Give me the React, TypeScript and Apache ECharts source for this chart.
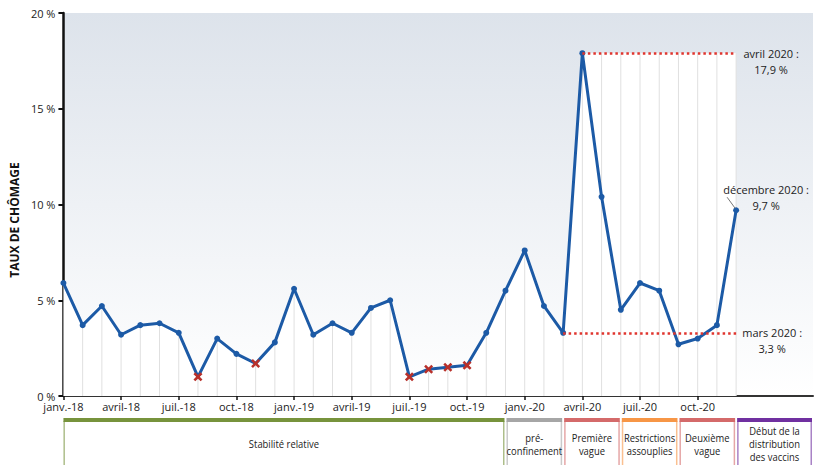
import React, { useEffect, useRef } from 'react';
import * as echarts from 'echarts';

const MONTHS = ['janv.', 'févr.', 'mars', 'avril', 'mai', 'juin', 'juil.', 'août', 'sept.', 'oct.', 'nov.', 'déc.'];
const YEARS = ['18', '19', '20', '21'];
const categories = YEARS.flatMap((y) => MONTHS.map((m) => `${m}-${y}`)).slice(0, 40);

const unemployment = [
  5.9, 3.7, 4.7, 3.2, 3.7, 3.8, 3.3, 1.0, 3.0, 2.2, 1.7, 2.8,
  5.6, 3.2, 3.8, 3.3, 4.6, 5.0, 1.0, 1.4, 1.5, 1.6, 3.3, 5.5,
  7.6, 4.7, 3.3, 17.9, 10.4, 4.5, 5.9, 5.5, 2.7, 3.0, 3.7, 9.7,
];
const markedMonths = [7, 10, 18, 19, 20, 21];
const labeledTickEvery = 3;
const lastLabeledIndex = 35;

const yMin = 0;
const yMax = 20;
const yInterval = 5;

const marchIndex = 26;
const aprilIndex = 27;
const decemberIndex = 35;
const annotationTexts = ['avril 2020 :\n17,9 %', 'mars 2020 :\n3,3 %', 'décembre 2020 :\n9,7 %'];

const phaseLabels = [
  'Stabilité relative',
  'pré-\nconfinement',
  'Première\nvague',
  'Restrictions\nassouplies',
  'Deuxième\nvague',
  'Début de la\ndistribution\ndes vaccins',
];
const phaseStarts = [0, 23, 26, 29, 32, 35];
const phaseEnds = [23, 26, 29, 32, 35, 39];
const phaseColors = ['#77933c', '#a6a6a6', '#d46a6a', '#f79646', '#d46a6a', '#7030a0'];

const FONT = '"Open Sans", sans-serif';
const BLUE = '#1c5aa6';
const RED = '#e0352e';
const X_PATH = 'path://M0,2 L2,0 L5,3 L8,0 L10,2 L7,5 L10,8 L8,10 L5,7 L2,10 L0,8 L3,5 Z';

export default function App() {
  const ref = useRef<HTMLDivElement>(null);

  useEffect(() => {
    if (!ref.current) return;
    const chart = echarts.init(ref.current, undefined, { renderer: 'svg' });

    const peak = unemployment[aprilIndex];
    const marchVal = unemployment[marchIndex];
    const decVal = unemployment[decemberIndex];
    const gridHeights = unemployment.map((v, i) =>
      i >= aprilIndex && i <= decemberIndex ? Math.max(v, peak) : v
    );
    const whiteBlock = categories.map((_, i) => (i >= aprilIndex && i <= decemberIndex ? peak : null));
    const tickFilter = (i: number) => i % labeledTickEvery === 0 && i <= lastLabeledIndex;

    const option: any = {
      animation: false,
      textStyle: { fontFamily: FONT },
      grid: {
        left: 62,
        right: 8,
        top: 13,
        bottom: 69,
        show: true,
        borderWidth: 0,
        backgroundColor: new echarts.graphic.LinearGradient(0, 0, 0, 1, [
          { offset: 0, color: '#dde3eb' },
          { offset: 1, color: '#ffffff' },
        ]),
      },
      xAxis: {
        type: 'category',
        data: categories,
        boundaryGap: false,
        axisLine: { lineStyle: { color: '#333', width: 2 } },
        axisTick: { show: true, interval: tickFilter, length: 4, lineStyle: { color: '#111', width: 1.5 } },
        axisLabel: {
          interval: tickFilter,
          margin: 5,
          fontSize: 11,
          color: '#222',
          fontFamily: FONT,
        },
        splitLine: { show: false },
      },
      yAxis: {
        type: 'value',
        min: yMin,
        max: yMax,
        interval: yInterval,
        name: 'TAUX DE CHÔMAGE',
        nameLocation: 'middle',
        nameGap: 37,
        nameTextStyle: {
          fontWeight: 'bold',
          fontSize: 12,
          color: '#111',
          fontFamily: FONT,
          padding: [0, 31, 0, 0],
        },
        axisLine: { show: true, lineStyle: { color: '#111', width: 2.5 } },
        axisTick: { show: true, length: 5, lineStyle: { color: '#111', width: 2 } },
        axisLabel: { formatter: (v: number) => `${v} %`, margin: 8, fontSize: 11, color: '#222', fontFamily: FONT },
        splitLine: { show: false },
      },
      series: [
        {
          type: 'line',
          data: unemployment,
          symbol: 'none',
          silent: true,
          lineStyle: { width: 0, opacity: 0 },
          areaStyle: { color: '#ffffff', opacity: 1 },
          z: 1,
        },
        {
          type: 'line',
          data: whiteBlock,
          symbol: 'none',
          silent: true,
          lineStyle: { width: 0, opacity: 0 },
          areaStyle: { color: '#ffffff', opacity: 1 },
          z: 1,
        },
        {
          type: 'custom',
          silent: true,
          z: 2,
          data: gridHeights.map((h, i) => [i, h]).filter((d) => d[0] > 0),
          renderItem: (_params: any, api: any) => {
            const a = api.coord([api.value(0), 0]);
            const b = api.coord([api.value(0), api.value(1)]);
            return {
              type: 'line',
              shape: { x1: a[0], y1: a[1], x2: b[0], y2: b[1] },
              style: { stroke: '#e0e0e0', lineWidth: 1 },
            };
          },
        },
        {
          type: 'line',
          z: 3,
          data: unemployment.map((v, i) =>
            markedMonths.includes(i)
              ? { value: v, symbol: X_PATH, symbolSize: 9, itemStyle: { color: '#b8302a' } }
              : v
          ),
          symbol: 'circle',
          symbolSize: 6,
          showAllSymbol: true,
          lineStyle: { color: BLUE, width: 3 },
          itemStyle: { color: BLUE },
          markLine: {
            silent: true,
            symbol: ['none', 'none'],
            label: { show: false },
            lineStyle: { color: RED, type: [2.5, 3], width: 2.5 },
            data: [
              [{ coord: [aprilIndex, peak] }, { coord: [decemberIndex, peak] }],
              [{ coord: [marchIndex, marchVal] }, { coord: [decemberIndex, marchVal] }],
            ],
          },
        },
      ],
    };
    chart.setOption(option);

    const px = (i: number, v: number) => chart.convertToPixel({ gridIndex: 0 }, [i, v]) as number[];
    const axisY = px(0, 0)[1];
    const graphics: any[] = [];

    phaseLabels.forEach((label, k) => {
      const x0 = px(phaseStarts[k], 0)[0] + (k > 0 ? 1 : 0);
      const x1 = px(phaseEnds[k], 0)[0] - 1;
      const color = phaseColors[k];
      const top = axisY + 22;
      graphics.push({
        type: 'rect',
        shape: { x: x0, y: top, width: x1 - x0, height: 4 },
        style: { fill: color },
        silent: true,
      });
      [x0 + 0.75, x1 - 0.75].forEach((x) =>
        graphics.push({
          type: 'line',
          shape: { x1: x, y1: top + 3, x2: x, y2: 480 },
          style: { stroke: color, lineWidth: 1.5, opacity: 0.6 },
          silent: true,
        })
      );
      graphics.push({
        type: 'text',
        x: (x0 + x1) / 2,
        y: top + 26,
        scaleX: 0.82,
        silent: true,
        style: {
          text: label,
          align: 'center',
          verticalAlign: 'middle',
          fontSize: 11.5,
          lineHeight: 13,
          fontFamily: FONT,
          fill: '#222',
        },
      });
    });

    const pA = px(decemberIndex, peak);
    const pM = px(decemberIndex, marchVal);
    const pD = px(decemberIndex, decVal);
    const annot = [
      { x: pA[0] + 35, y: pA[1] + 8, text: annotationTexts[0] },
      { x: pM[0] + 36, y: pM[1] + 8, text: annotationTexts[1] },
      { x: pD[0] + 30, y: pD[1] - 13, text: annotationTexts[2] },
    ];
    annot.forEach((a) =>
      graphics.push({
        type: 'text',
        x: a.x,
        y: a.y,
        silent: true,
        z: 10,
        style: {
          text: a.text,
          align: 'center',
          verticalAlign: 'middle',
          fontSize: 11,
          lineHeight: 16,
          fontFamily: FONT,
          fill: '#222',
        },
      })
    );
    graphics.push({
      type: 'line',
      silent: true,
      z: 10,
      shape: { x1: pD[0] - 9, y1: pD[1] - 13, x2: pD[0] - 1, y2: pD[1] - 2 },
      style: { stroke: '#777', lineWidth: 1 },
    });

    chart.setOption({ graphic: graphics });

    return () => chart.dispose();
  }, []);

  return (
    <div
      ref={ref}
      style={{ position: 'fixed', left: 0, top: 0, width: 821, height: 465, background: '#fff' }}
    />
  );
}
